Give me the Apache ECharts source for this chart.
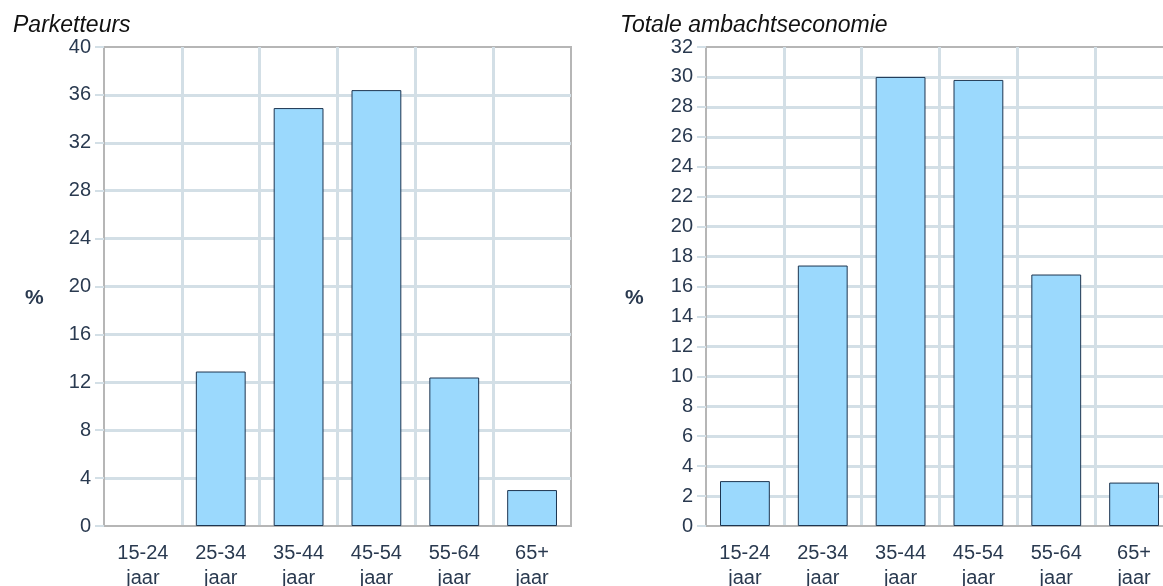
<!DOCTYPE html>
<html>
<head>
<meta charset="utf-8">
<script src="https://cdn.jsdelivr.net/npm/echarts@6/dist/echarts.min.js"></script>
<style>
html,body{margin:0;padding:0;background:#fff;overflow:hidden;}
#c{width:1163px;height:586px;}
</style>
</head>
<body>
<div id="c"></div>
<script>
var categories = ['15-24\njaar', '25-34\njaar', '35-44\njaar', '45-54\njaar', '55-64\njaar', '65+\njaar'];
var parketteurs = [0, 12.9, 34.9, 36.4, 12.4, 3.0];
var totaal = [3.0, 17.4, 30.0, 29.8, 16.8, 2.9];
var titleLeft = 'Parketteurs';
var titleRight = 'Totale ambachtseconomie';
var yName = '%';

var FONT = "'Liberation Sans Narrow', 'Arial Narrow', 'Liberation Sans', Arial, sans-serif";
var LABEL = '#2a3a50';
var GRIDC = '#d3dfe6';
var AXISC = '#b6b6b6';
var BAR = '#9bd9fd';
var BORDER = '#1d3550';

function barData(arr) {
  return arr.map(function (v) {
    return v === 0 ? {value: v, itemStyle: {borderWidth: 0}} : v;
  });
}
function xAx(gi) {
  return {
    type: 'category', gridIndex: gi, data: categories,
    axisLine: {show: true, lineStyle: {color: AXISC, width: 2}},
    axisTick: {show: false},
    axisLabel: {color: LABEL, fontFamily: FONT, fontSize: 20, lineHeight: 25, margin: 15},
    splitLine: {show: true, showMinLine: false, showMaxLine: false, lineStyle: {color: GRIDC, width: 3}}
  };
}
function yAx(gi, max, interval) {
  return {
    type: 'value', gridIndex: gi, min: 0, max: max, interval: interval,
    axisLine: {show: true, lineStyle: {color: AXISC, width: 2}},
    axisTick: {show: true, length: 9, lineStyle: {color: GRIDC, width: 2}},
    axisLabel: {color: LABEL, fontFamily: FONT, fontSize: 20, margin: 13},
    splitLine: {show: true, showMinLine: false, showMaxLine: false, lineStyle: {color: GRIDC, width: 3}}
  };
}
var chart = echarts.init(document.getElementById('c'), null, {renderer: 'canvas'});
chart.setOption({
  animation: false,
  backgroundColor: '#fff',
  title: [
    {text: titleLeft, left: 8, top: 9, textStyle: {fontFamily: "'Liberation Sans', Arial, sans-serif", fontStyle: 'italic', fontWeight: 'normal', fontSize: 23, color: '#111'}},
    {text: titleRight, left: 615, top: 9, textStyle: {fontFamily: "'Liberation Sans', Arial, sans-serif", fontStyle: 'italic', fontWeight: 'normal', fontSize: 23, color: '#111'}}
  ],
  graphic: [
    {type: 'text', left: 25, top: 288, style: {text: yName, font: "bold 21px 'Liberation Sans', Arial, sans-serif", fill: LABEL}},
    {type: 'text', left: 625, top: 288, style: {text: yName, font: "bold 21px 'Liberation Sans', Arial, sans-serif", fill: LABEL}}
  ],
  grid: [
    {left: 104, top: 47, width: 467, height: 479, outerBoundsMode: 'none', containLabel: false, show: true, borderColor: AXISC, borderWidth: 2, backgroundColor: 'transparent'},
    {left: 706, top: 47, width: 467, height: 479, outerBoundsMode: 'none', containLabel: false, show: true, borderColor: AXISC, borderWidth: 2, backgroundColor: 'transparent'}
  ],
  xAxis: [xAx(0), xAx(1)],
  yAxis: [yAx(0, 40, 4), yAx(1, 32, 2)],
  series: [
    {type: 'bar', xAxisIndex: 0, yAxisIndex: 0, data: barData(parketteurs), barCategoryGap: '36%',
     itemStyle: {color: BAR, borderColor: BORDER, borderWidth: 1}},
    {type: 'bar', xAxisIndex: 1, yAxisIndex: 1, data: barData(totaal), barCategoryGap: '36%',
     itemStyle: {color: BAR, borderColor: BORDER, borderWidth: 1}}
  ]
});
</script>
</body>
</html>
